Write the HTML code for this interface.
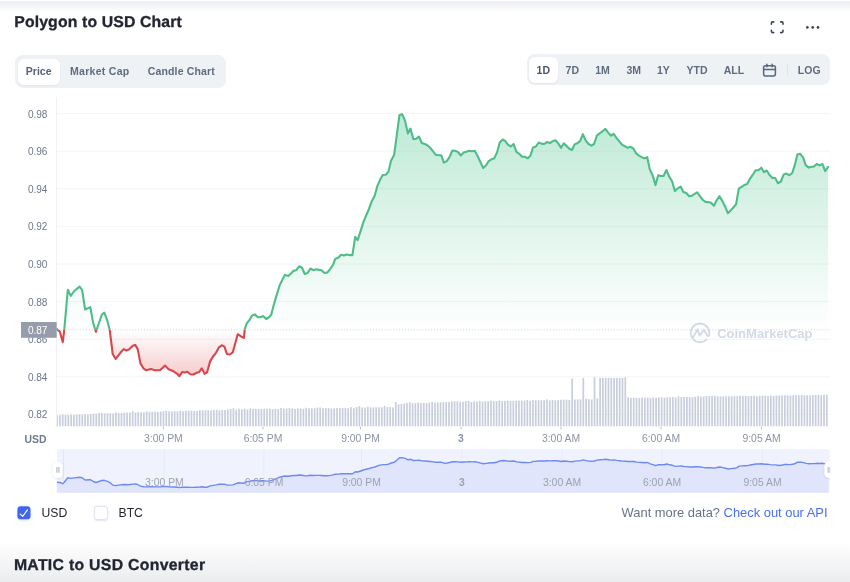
<!DOCTYPE html>
<html><head><meta charset="utf-8"><title>Polygon to USD Chart</title>
<style>
html,body{margin:0;padding:0;}
body{width:850px;height:582px;overflow:hidden;background:#fff;position:relative;font-family:"Liberation Sans",sans-serif;color:#222531;}
#wrap{position:absolute;left:0;top:0;width:850px;height:582px;will-change:transform;}
.topshade{position:absolute;left:0;top:1px;width:850px;height:12px;background:linear-gradient(#eceef2,#fff);}
.botshade{position:absolute;left:0;top:541px;width:850px;height:41px;background:linear-gradient(#fff,#ebecee);}
.h{position:absolute;left:14.5px;font-weight:bold;font-size:15.3px;line-height:20px;white-space:nowrap;color:#222531;}
.ht{font-family:"Liberation Sans",sans-serif;font-weight:bold;font-size:15.8px;fill:#222531;stroke:#222531;stroke-width:0.3px;text-rendering:geometricPrecision;}
.bar{position:absolute;background:#eff2f5;border-radius:8px;}
.sel{position:absolute;background:#fff;border-radius:6px;box-shadow:0 1px 2px rgba(128,138,157,.12)}
.t{position:absolute;font-size:10.5px;font-weight:bold;color:#5f6b80;line-height:14px;white-space:nowrap;transform:translateX(-50%);}
.yl{font-size:10.05px;font-family:"Liberation Sans",sans-serif;}
.xl{font-size:10.4px;font-family:"Liberation Sans",sans-serif;fill:#8a93a5;}
.nl{fill:#9aa2b3;}
.lbl{position:absolute;font-size:12.2px;line-height:16px;white-space:nowrap;}
</style></head><body>
<div id="wrap"><div class="topshade"></div>
<div class="botshade"></div>
<svg width="400" height="40" viewBox="0 0 400 40" style="position:absolute;left:0;top:0"><text x="14.2" y="26.85" class="ht" textLength="167.6" lengthAdjust="spacing">Polygon to USD Chart</text></svg>
<svg width="400" height="40" viewBox="0 542 400 40" style="position:absolute;left:0;top:542px"><text x="13.9" y="570.3" class="ht" textLength="191.2" lengthAdjust="spacing">MATIC to USD Converter</text></svg>

<div class="bar" style="left:14.7px;top:54.6px;width:211.7px;height:33.6px"></div>
<div class="sel" style="left:18.2px;top:58.8px;width:42px;height:26.2px"></div>
<div class="t" style="left:38.7px;top:64.3px;color:#566176">Price</div>
<div class="t" style="left:99.8px;top:64.3px;letter-spacing:0.28px">Market Cap</div>
<div class="t" style="left:181.3px;top:64.3px;letter-spacing:0.15px">Candle Chart</div>

<div class="bar" style="left:526.8px;top:54px;width:303px;height:31.4px"></div>
<div class="sel" style="left:529.4px;top:57px;width:28.2px;height:25.7px"></div>
<div class="t" style="left:543.3px;top:63px;color:#4a556b">1D</div>
<div class="t" style="left:572.3px;top:63px">7D</div>
<div class="t" style="left:602.5px;top:63px">1M</div>
<div class="t" style="left:633.7px;top:63px">3M</div>
<div class="t" style="left:663.4px;top:63px">1Y</div>
<div class="t" style="left:697px;top:63px">YTD</div>
<div class="t" style="left:733.9px;top:63px">ALL</div>
<div class="t" style="left:809.2px;top:63px">LOG</div>
<div style="position:absolute;left:786.9px;top:64.3px;width:1px;height:10.8px;background:#dde1e8"></div>
<svg style="position:absolute;left:762px;top:61.6px" width="15" height="16" viewBox="0 0 15 16"><rect x="1.6" y="3.7" width="11.8" height="10.2" rx="1.8" fill="none" stroke="#58667e" stroke-width="1.5"/><path d="M1.6,7.4h11.8M4.9,2.2v2.6M10.1,2.2v2.6" stroke="#58667e" stroke-width="1.5" fill="none" stroke-linecap="round"/></svg>
<svg style="position:absolute;left:770.1px;top:21.3px" width="14.4" height="12.5" viewBox="0 0 15 14"><path d="M1,3.6V2.4Q1,1 2.4,1H3.6M11.4,1h1.2Q14,1 14,2.4V3.6M14,10.4v1.2Q14,13 12.6,13H11.4M3.6,13H2.4Q1,13 1,11.6V10.4" fill="none" stroke="#3a4256" stroke-width="1.75" stroke-linecap="round"/></svg>
<svg style="position:absolute;left:805px;top:25px" width="16" height="5" viewBox="0 0 16 5"><circle cx="2.4" cy="2.4" r="1.32" fill="#3a4256"/><circle cx="7.7" cy="2.4" r="1.32" fill="#3a4256"/><circle cx="13" cy="2.4" r="1.32" fill="#3a4256"/></svg>

<svg width="850" height="582" viewBox="0 0 850 582" style="position:absolute;left:0;top:0">
<defs>
<linearGradient id="gg" x1="0" y1="113" x2="0" y2="329.8" gradientUnits="userSpaceOnUse">
<stop offset="0" stop-color="#3fbf86" stop-opacity="0.34"/><stop offset="1" stop-color="#3fbf86" stop-opacity="0.0"/></linearGradient>
<linearGradient id="rg" x1="0" y1="329.8" x2="0" y2="378" gradientUnits="userSpaceOnUse">
<stop offset="0" stop-color="#e0464b" stop-opacity="0.0"/><stop offset="1" stop-color="#e0464b" stop-opacity="0.29"/></linearGradient>
<clipPath id="cu"><rect x="0" y="0" width="850" height="329.8"/></clipPath>
<clipPath id="cd"><rect x="0" y="329.8" width="850" height="200"/></clipPath>
</defs>
<line x1="56.5" x2="56.5" y1="97" y2="427" stroke="#eff2f5" stroke-width="1"/>
<line x1="57" x2="830" y1="113.6" y2="113.6" stroke="#f3f4f7" stroke-width="1"/><line x1="57" x2="830" y1="151.2" y2="151.2" stroke="#f3f4f7" stroke-width="1"/><line x1="57" x2="830" y1="188.8" y2="188.8" stroke="#f3f4f7" stroke-width="1"/><line x1="57" x2="830" y1="226.4" y2="226.4" stroke="#f3f4f7" stroke-width="1"/><line x1="57" x2="830" y1="264.0" y2="264.0" stroke="#f3f4f7" stroke-width="1"/><line x1="57" x2="830" y1="301.6" y2="301.6" stroke="#f3f4f7" stroke-width="1"/><line x1="57" x2="830" y1="339.2" y2="339.2" stroke="#f3f4f7" stroke-width="1"/><line x1="57" x2="830" y1="376.8" y2="376.8" stroke="#f3f4f7" stroke-width="1"/><line x1="57" x2="830" y1="414.4" y2="414.4" stroke="#f3f4f7" stroke-width="1"/>
<g fill="#6d788d"><text x="27.9" y="117.5" class="yl">0.98</text><text x="27.9" y="155.1" class="yl">0.96</text><text x="27.9" y="192.7" class="yl">0.94</text><text x="27.9" y="230.3" class="yl">0.92</text><text x="27.9" y="267.9" class="yl">0.90</text><text x="27.9" y="305.5" class="yl">0.88</text><text x="27.9" y="343.1" class="yl">0.86</text><text x="27.9" y="380.7" class="yl">0.84</text><text x="27.9" y="418.3" class="yl">0.82</text></g>
<g clip-path="url(#cu)"><path d="M56.9,329.0 L59.9,331.8 L62.8,342.1 L64.3,329.3 L67.8,289.8 L70.8,295.9 L74.2,291.0 L79.6,286.6 L82.1,289.8 L85.1,309.5 L90.3,307.1 L93.2,323.1 L95.9,331.8 L101.9,314.5 L104.3,312.7 L107.3,320.6 L109.8,330.5 L112.7,354.0 L115.7,358.9 L120.4,352.8 L123.6,349.1 L126.6,350.5 L129.5,349.1 L132.8,345.8 L135.2,344.9 L137.7,349.1 L140.4,363.4 L143.4,368.3 L146.3,370.3 L150.8,369.1 L155.0,370.3 L159.9,370.3 L165.1,365.6 L168.6,369.3 L173.5,371.3 L177.2,373.8 L179.4,376.2 L182.2,372.0 L184.6,372.5 L187.4,371.8 L190.3,374.2 L193.3,374.5 L196.2,373.0 L199.2,372.0 L201.7,368.3 L204.6,373.8 L207.1,372.3 L210.1,361.4 L213.0,356.5 L216.0,352.8 L219.0,347.3 L221.7,345.3 L224.4,346.6 L226.9,354.0 L229.8,354.5 L232.8,352.3 L237.7,334.2 L240.7,336.2 L243.9,337.9 L244.7,329.6 L246.6,323.5 L249.4,320.1 L252.3,315.4 L254.7,314.4 L257.9,317.3 L260.8,317.1 L263.2,316.0 L266.1,319.0 L268.7,317.5 L271.2,314.8 L274.0,304.1 L276.8,294.6 L279.7,285.2 L282.5,279.5 L285.0,274.8 L288.2,276.1 L291.0,273.5 L293.8,270.6 L296.3,270.2 L299.1,266.3 L302.0,267.8 L304.8,274.0 L307.6,272.9 L310.5,268.5 L313.3,270.2 L316.1,269.3 L319.0,269.9 L321.6,270.2 L324.4,272.9 L327.3,272.5 L330.1,269.1 L332.9,265.0 L335.4,258.7 L338.2,257.8 L341.1,254.8 L343.9,255.5 L346.7,254.4 L349.6,255.1 L352.4,255.1 L355.2,236.9 L357.6,240.2 L360.5,231.3 L363.3,222.4 L366.0,215.7 L368.9,209.2 L371.8,201.2 L374.6,196.0 L377.5,185.6 L380.2,179.6 L382.8,175.0 L385.7,174.8 L388.4,171.9 L391.0,160.8 L394.1,155.0 L396.8,135.1 L399.4,115.3 L402.1,114.1 L405.0,120.6 L407.9,133.4 L410.5,128.6 L413.4,139.2 L416.3,138.7 L418.9,136.5 L421.8,143.0 L424.7,144.0 L427.3,145.2 L430.2,147.8 L433.1,151.4 L435.8,154.8 L438.7,155.3 L441.3,155.3 L443.9,162.7 L446.8,161.1 L449.5,157.2 L452.4,150.5 L455.0,150.7 L457.9,151.9 L460.8,155.5 L463.7,152.4 L466.3,151.7 L469.2,150.7 L471.9,151.2 L474.7,150.7 L477.6,156.0 L480.5,162.3 L483.2,168.0 L486.1,165.2 L488.7,161.1 L491.9,159.1 L494.2,158.4 L497.0,152.5 L499.8,142.5 L502.7,139.5 L505.1,140.8 L507.9,144.6 L510.8,146.5 L513.6,144.0 L516.4,151.9 L519.3,153.8 L522.1,156.8 L524.9,156.8 L527.8,158.2 L530.4,155.7 L533.1,147.4 L535.9,146.5 L538.7,142.5 L541.4,143.6 L544.2,144.0 L547.0,142.1 L549.9,143.1 L552.7,141.2 L555.5,140.2 L558.4,143.6 L561.0,147.8 L563.7,143.4 L566.5,145.9 L569.3,148.7 L572.0,150.0 L574.6,144.4 L577.3,143.2 L580.1,141.2 L582.9,134.2 L585.8,140.6 L588.6,144.0 L591.4,145.7 L594.1,144.0 L596.9,135.5 L599.7,133.4 L602.6,131.2 L605.4,128.9 L608.2,132.7 L611.1,135.7 L613.7,133.8 L616.6,138.3 L619.4,141.4 L622.2,144.9 L625.1,146.3 L627.7,147.8 L630.5,146.8 L633.4,148.5 L636.2,153.4 L639.0,155.7 L641.7,157.2 L644.7,158.4 L647.2,157.1 L649.8,169.4 L652.7,175.6 L655.5,185.1 L658.1,175.4 L661.0,176.0 L663.6,176.0 L666.4,170.0 L669.3,176.9 L672.1,181.3 L674.9,191.1 L677.8,188.3 L680.6,186.6 L683.4,191.9 L686.3,193.0 L689.1,196.2 L691.8,195.8 L694.6,193.9 L697.2,192.4 L700.1,196.4 L702.9,200.0 L705.5,201.9 L708.4,202.1 L711.0,202.8 L713.9,205.8 L716.5,200.6 L719.5,196.2 L722.4,201.1 L725.0,206.2 L727.8,213.2 L730.7,210.4 L733.5,207.2 L736.1,204.3 L738.8,188.7 L741.6,186.8 L744.5,184.9 L747.1,183.9 L749.9,178.8 L752.8,174.7 L755.6,170.3 L758.4,170.3 L761.3,167.7 L763.9,172.2 L766.7,170.5 L769.6,175.1 L772.4,178.0 L775.2,178.0 L778.0,183.2 L780.9,181.5 L783.7,174.4 L786.5,173.6 L789.4,175.3 L792.2,173.0 L794.7,165.4 L797.4,154.6 L800.2,153.8 L803.1,157.4 L805.7,165.1 L808.7,167.6 L811.5,166.8 L813.9,166.6 L816.7,164.0 L819.6,165.4 L822.4,164.0 L825.2,171.1 L828.1,166.8 L828.1,329.8 L56.9,329.8 Z" fill="url(#gg)"/></g>
<g clip-path="url(#cd)"><path d="M56.9,329.0 L59.9,331.8 L62.8,342.1 L64.3,329.3 L67.8,289.8 L70.8,295.9 L74.2,291.0 L79.6,286.6 L82.1,289.8 L85.1,309.5 L90.3,307.1 L93.2,323.1 L95.9,331.8 L101.9,314.5 L104.3,312.7 L107.3,320.6 L109.8,330.5 L112.7,354.0 L115.7,358.9 L120.4,352.8 L123.6,349.1 L126.6,350.5 L129.5,349.1 L132.8,345.8 L135.2,344.9 L137.7,349.1 L140.4,363.4 L143.4,368.3 L146.3,370.3 L150.8,369.1 L155.0,370.3 L159.9,370.3 L165.1,365.6 L168.6,369.3 L173.5,371.3 L177.2,373.8 L179.4,376.2 L182.2,372.0 L184.6,372.5 L187.4,371.8 L190.3,374.2 L193.3,374.5 L196.2,373.0 L199.2,372.0 L201.7,368.3 L204.6,373.8 L207.1,372.3 L210.1,361.4 L213.0,356.5 L216.0,352.8 L219.0,347.3 L221.7,345.3 L224.4,346.6 L226.9,354.0 L229.8,354.5 L232.8,352.3 L237.7,334.2 L240.7,336.2 L243.9,337.9 L244.7,329.6 L246.6,323.5 L249.4,320.1 L252.3,315.4 L254.7,314.4 L257.9,317.3 L260.8,317.1 L263.2,316.0 L266.1,319.0 L268.7,317.5 L271.2,314.8 L274.0,304.1 L276.8,294.6 L279.7,285.2 L282.5,279.5 L285.0,274.8 L288.2,276.1 L291.0,273.5 L293.8,270.6 L296.3,270.2 L299.1,266.3 L302.0,267.8 L304.8,274.0 L307.6,272.9 L310.5,268.5 L313.3,270.2 L316.1,269.3 L319.0,269.9 L321.6,270.2 L324.4,272.9 L327.3,272.5 L330.1,269.1 L332.9,265.0 L335.4,258.7 L338.2,257.8 L341.1,254.8 L343.9,255.5 L346.7,254.4 L349.6,255.1 L352.4,255.1 L355.2,236.9 L357.6,240.2 L360.5,231.3 L363.3,222.4 L366.0,215.7 L368.9,209.2 L371.8,201.2 L374.6,196.0 L377.5,185.6 L380.2,179.6 L382.8,175.0 L385.7,174.8 L388.4,171.9 L391.0,160.8 L394.1,155.0 L396.8,135.1 L399.4,115.3 L402.1,114.1 L405.0,120.6 L407.9,133.4 L410.5,128.6 L413.4,139.2 L416.3,138.7 L418.9,136.5 L421.8,143.0 L424.7,144.0 L427.3,145.2 L430.2,147.8 L433.1,151.4 L435.8,154.8 L438.7,155.3 L441.3,155.3 L443.9,162.7 L446.8,161.1 L449.5,157.2 L452.4,150.5 L455.0,150.7 L457.9,151.9 L460.8,155.5 L463.7,152.4 L466.3,151.7 L469.2,150.7 L471.9,151.2 L474.7,150.7 L477.6,156.0 L480.5,162.3 L483.2,168.0 L486.1,165.2 L488.7,161.1 L491.9,159.1 L494.2,158.4 L497.0,152.5 L499.8,142.5 L502.7,139.5 L505.1,140.8 L507.9,144.6 L510.8,146.5 L513.6,144.0 L516.4,151.9 L519.3,153.8 L522.1,156.8 L524.9,156.8 L527.8,158.2 L530.4,155.7 L533.1,147.4 L535.9,146.5 L538.7,142.5 L541.4,143.6 L544.2,144.0 L547.0,142.1 L549.9,143.1 L552.7,141.2 L555.5,140.2 L558.4,143.6 L561.0,147.8 L563.7,143.4 L566.5,145.9 L569.3,148.7 L572.0,150.0 L574.6,144.4 L577.3,143.2 L580.1,141.2 L582.9,134.2 L585.8,140.6 L588.6,144.0 L591.4,145.7 L594.1,144.0 L596.9,135.5 L599.7,133.4 L602.6,131.2 L605.4,128.9 L608.2,132.7 L611.1,135.7 L613.7,133.8 L616.6,138.3 L619.4,141.4 L622.2,144.9 L625.1,146.3 L627.7,147.8 L630.5,146.8 L633.4,148.5 L636.2,153.4 L639.0,155.7 L641.7,157.2 L644.7,158.4 L647.2,157.1 L649.8,169.4 L652.7,175.6 L655.5,185.1 L658.1,175.4 L661.0,176.0 L663.6,176.0 L666.4,170.0 L669.3,176.9 L672.1,181.3 L674.9,191.1 L677.8,188.3 L680.6,186.6 L683.4,191.9 L686.3,193.0 L689.1,196.2 L691.8,195.8 L694.6,193.9 L697.2,192.4 L700.1,196.4 L702.9,200.0 L705.5,201.9 L708.4,202.1 L711.0,202.8 L713.9,205.8 L716.5,200.6 L719.5,196.2 L722.4,201.1 L725.0,206.2 L727.8,213.2 L730.7,210.4 L733.5,207.2 L736.1,204.3 L738.8,188.7 L741.6,186.8 L744.5,184.9 L747.1,183.9 L749.9,178.8 L752.8,174.7 L755.6,170.3 L758.4,170.3 L761.3,167.7 L763.9,172.2 L766.7,170.5 L769.6,175.1 L772.4,178.0 L775.2,178.0 L778.0,183.2 L780.9,181.5 L783.7,174.4 L786.5,173.6 L789.4,175.3 L792.2,173.0 L794.7,165.4 L797.4,154.6 L800.2,153.8 L803.1,157.4 L805.7,165.1 L808.7,167.6 L811.5,166.8 L813.9,166.6 L816.7,164.0 L819.6,165.4 L822.4,164.0 L825.2,171.1 L828.1,166.8 L828.1,329.8 L56.9,329.8 Z" fill="url(#rg)"/></g>
<line x1="57" x2="830" y1="329.8" y2="329.8" stroke="#cdd1da" stroke-width="1" stroke-dasharray="1 1.9"/>
<g fill="#c9cedd"><rect x="57.00" y="415.3" width="0.95" height="11.0"/><rect x="59.05" y="415.2" width="1.70" height="11.1"/><rect x="61.85" y="414.5" width="1.70" height="11.8"/><rect x="64.65" y="415.0" width="1.70" height="11.3"/><rect x="67.45" y="414.9" width="1.70" height="11.4"/><rect x="70.25" y="414.7" width="1.70" height="11.6"/><rect x="73.04" y="415.0" width="1.70" height="11.3"/><rect x="75.84" y="414.5" width="1.70" height="11.8"/><rect x="78.64" y="414.4" width="1.70" height="11.9"/><rect x="81.44" y="414.7" width="1.70" height="11.6"/><rect x="84.24" y="414.2" width="1.70" height="12.1"/><rect x="87.04" y="414.5" width="1.70" height="11.8"/><rect x="89.84" y="414.0" width="1.70" height="12.3"/><rect x="92.64" y="413.8" width="1.70" height="12.5"/><rect x="95.44" y="413.7" width="1.70" height="12.6"/><rect x="98.24" y="413.0" width="1.70" height="13.3"/><rect x="101.03" y="412.9" width="1.70" height="13.4"/><rect x="103.83" y="413.4" width="1.70" height="12.9"/><rect x="106.63" y="413.3" width="1.70" height="13.0"/><rect x="109.43" y="413.2" width="1.70" height="13.1"/><rect x="112.23" y="413.5" width="1.70" height="12.8"/><rect x="115.03" y="412.4" width="1.70" height="13.9"/><rect x="117.83" y="412.8" width="1.70" height="13.5"/><rect x="120.63" y="413.1" width="1.70" height="13.2"/><rect x="123.43" y="412.6" width="1.70" height="13.7"/><rect x="126.22" y="412.5" width="1.70" height="13.8"/><rect x="129.02" y="412.4" width="1.70" height="13.9"/><rect x="131.82" y="411.1" width="1.70" height="15.2"/><rect x="134.62" y="412.6" width="1.70" height="13.7"/><rect x="137.42" y="412.1" width="1.70" height="14.2"/><rect x="140.22" y="412.4" width="1.70" height="13.9"/><rect x="143.02" y="412.4" width="1.70" height="13.9"/><rect x="145.82" y="411.3" width="1.70" height="15.0"/><rect x="148.62" y="411.8" width="1.70" height="14.5"/><rect x="151.42" y="411.7" width="1.70" height="14.6"/><rect x="154.22" y="411.6" width="1.70" height="14.7"/><rect x="157.01" y="412.0" width="1.70" height="14.3"/><rect x="159.81" y="411.5" width="1.70" height="14.8"/><rect x="162.61" y="411.4" width="1.70" height="14.9"/><rect x="165.41" y="410.7" width="1.70" height="15.6"/><rect x="168.21" y="411.3" width="1.70" height="15.0"/><rect x="171.01" y="411.6" width="1.70" height="14.7"/><rect x="173.81" y="411.1" width="1.70" height="15.2"/><rect x="176.61" y="411.4" width="1.70" height="14.9"/><rect x="179.41" y="410.9" width="1.70" height="15.4"/><rect x="182.21" y="411.3" width="1.70" height="15.0"/><rect x="185.00" y="410.8" width="1.70" height="15.5"/><rect x="187.80" y="410.7" width="1.70" height="15.6"/><rect x="190.60" y="410.6" width="1.70" height="15.7"/><rect x="193.40" y="411.0" width="1.70" height="15.3"/><rect x="196.20" y="410.9" width="1.70" height="15.4"/><rect x="199.00" y="410.4" width="1.70" height="15.9"/><rect x="201.80" y="410.3" width="1.70" height="16.0"/><rect x="204.60" y="410.2" width="1.70" height="16.1"/><rect x="207.40" y="410.2" width="1.70" height="16.1"/><rect x="210.19" y="410.5" width="1.70" height="15.8"/><rect x="212.99" y="410.0" width="1.70" height="16.3"/><rect x="215.79" y="409.9" width="1.70" height="16.4"/><rect x="218.59" y="410.3" width="1.70" height="16.0"/><rect x="221.39" y="409.8" width="1.70" height="16.5"/><rect x="224.19" y="410.1" width="1.70" height="16.2"/><rect x="226.99" y="409.6" width="1.70" height="16.7"/><rect x="229.79" y="408.9" width="1.70" height="17.4"/><rect x="232.59" y="408.3" width="1.70" height="18.0"/><rect x="235.39" y="409.8" width="1.70" height="16.5"/><rect x="238.19" y="408.7" width="1.70" height="17.6"/><rect x="240.98" y="409.2" width="1.70" height="17.1"/><rect x="243.78" y="408.5" width="1.70" height="17.8"/><rect x="246.58" y="409.5" width="1.70" height="16.8"/><rect x="249.38" y="408.4" width="1.70" height="17.9"/><rect x="252.18" y="409.0" width="1.70" height="17.3"/><rect x="254.98" y="408.9" width="1.70" height="17.4"/><rect x="257.78" y="408.9" width="1.70" height="17.4"/><rect x="260.58" y="408.9" width="1.70" height="17.4"/><rect x="263.38" y="408.8" width="1.70" height="17.5"/><rect x="266.17" y="408.8" width="1.70" height="17.5"/><rect x="268.97" y="408.8" width="1.70" height="17.5"/><rect x="271.77" y="409.1" width="1.70" height="17.2"/><rect x="274.57" y="408.7" width="1.70" height="17.6"/><rect x="277.37" y="409.1" width="1.70" height="17.2"/><rect x="280.17" y="408.0" width="1.70" height="18.3"/><rect x="282.97" y="408.6" width="1.70" height="17.7"/><rect x="285.77" y="408.6" width="1.70" height="17.7"/><rect x="288.57" y="407.9" width="1.70" height="18.4"/><rect x="291.37" y="408.5" width="1.70" height="17.8"/><rect x="294.16" y="408.9" width="1.70" height="17.4"/><rect x="296.96" y="408.4" width="1.70" height="17.9"/><rect x="299.76" y="408.4" width="1.70" height="17.9"/><rect x="302.56" y="408.8" width="1.70" height="17.5"/><rect x="305.36" y="407.7" width="1.70" height="18.6"/><rect x="308.16" y="408.3" width="1.70" height="18.0"/><rect x="310.96" y="408.3" width="1.70" height="18.0"/><rect x="313.76" y="408.2" width="1.70" height="18.1"/><rect x="316.56" y="407.6" width="1.70" height="18.7"/><rect x="319.36" y="407.6" width="1.70" height="18.7"/><rect x="322.15" y="408.1" width="1.70" height="18.2"/><rect x="324.95" y="408.1" width="1.70" height="18.2"/><rect x="327.75" y="408.1" width="1.70" height="18.2"/><rect x="330.55" y="408.4" width="1.70" height="17.9"/><rect x="333.35" y="408.4" width="1.70" height="17.9"/><rect x="336.15" y="408.0" width="1.70" height="18.3"/><rect x="338.95" y="407.9" width="1.70" height="18.4"/><rect x="341.75" y="407.9" width="1.70" height="18.4"/><rect x="344.55" y="407.9" width="1.70" height="18.4"/><rect x="347.35" y="408.2" width="1.70" height="18.1"/><rect x="350.14" y="407.2" width="1.70" height="19.1"/><rect x="352.94" y="408.1" width="1.70" height="18.2"/><rect x="355.74" y="407.0" width="1.70" height="19.3"/><rect x="358.54" y="406.2" width="1.70" height="20.1"/><rect x="361.34" y="407.5" width="1.70" height="18.8"/><rect x="364.14" y="407.5" width="1.70" height="18.8"/><rect x="366.94" y="406.8" width="1.70" height="19.5"/><rect x="369.74" y="407.4" width="1.70" height="18.9"/><rect x="372.54" y="407.4" width="1.70" height="18.9"/><rect x="375.34" y="407.3" width="1.70" height="19.0"/><rect x="378.13" y="407.3" width="1.70" height="19.0"/><rect x="380.93" y="407.2" width="1.70" height="19.1"/><rect x="383.73" y="406.0" width="1.70" height="20.3"/><rect x="386.53" y="407.1" width="1.70" height="19.2"/><rect x="389.33" y="407.1" width="1.70" height="19.2"/><rect x="392.13" y="407.4" width="1.70" height="18.9"/><rect x="394.93" y="402.0" width="1.70" height="24.3"/><rect x="397.73" y="404.3" width="1.70" height="22.0"/><rect x="400.53" y="403.8" width="1.70" height="22.5"/><rect x="403.33" y="403.6" width="1.70" height="22.7"/><rect x="406.12" y="402.9" width="1.70" height="23.4"/><rect x="408.92" y="402.2" width="1.70" height="24.1"/><rect x="411.72" y="403.3" width="1.70" height="23.0"/><rect x="414.52" y="403.2" width="1.70" height="23.1"/><rect x="417.32" y="402.5" width="1.70" height="23.8"/><rect x="420.12" y="403.0" width="1.70" height="23.3"/><rect x="422.92" y="402.9" width="1.70" height="23.4"/><rect x="425.72" y="403.2" width="1.70" height="23.1"/><rect x="428.52" y="402.7" width="1.70" height="23.6"/><rect x="431.32" y="402.0" width="1.70" height="24.3"/><rect x="434.12" y="402.5" width="1.70" height="23.8"/><rect x="436.91" y="402.4" width="1.70" height="23.9"/><rect x="439.71" y="402.3" width="1.70" height="24.0"/><rect x="442.51" y="402.2" width="1.70" height="24.1"/><rect x="445.31" y="402.1" width="1.70" height="24.2"/><rect x="448.11" y="402.0" width="1.70" height="24.3"/><rect x="450.91" y="401.4" width="1.70" height="24.9"/><rect x="453.71" y="401.3" width="1.70" height="25.0"/><rect x="456.51" y="401.3" width="1.70" height="25.0"/><rect x="459.31" y="401.8" width="1.70" height="24.5"/><rect x="462.11" y="401.7" width="1.70" height="24.6"/><rect x="464.90" y="401.1" width="1.70" height="25.2"/><rect x="467.70" y="401.0" width="1.70" height="25.3"/><rect x="470.50" y="402.0" width="1.70" height="24.3"/><rect x="473.30" y="401.5" width="1.70" height="24.8"/><rect x="476.10" y="401.5" width="1.70" height="24.8"/><rect x="478.90" y="400.8" width="1.70" height="25.5"/><rect x="481.70" y="401.7" width="1.70" height="24.6"/><rect x="484.50" y="401.3" width="1.70" height="25.0"/><rect x="487.30" y="401.2" width="1.70" height="25.1"/><rect x="490.09" y="400.6" width="1.70" height="25.7"/><rect x="492.89" y="401.1" width="1.70" height="25.2"/><rect x="495.69" y="401.1" width="1.70" height="25.2"/><rect x="498.49" y="400.4" width="1.70" height="25.9"/><rect x="501.29" y="401.0" width="1.70" height="25.3"/><rect x="504.09" y="400.9" width="1.70" height="25.4"/><rect x="506.89" y="400.8" width="1.70" height="25.5"/><rect x="509.69" y="400.8" width="1.70" height="25.5"/><rect x="512.49" y="400.7" width="1.70" height="25.6"/><rect x="515.29" y="400.7" width="1.70" height="25.6"/><rect x="518.08" y="400.6" width="1.70" height="25.7"/><rect x="520.88" y="400.6" width="1.70" height="25.7"/><rect x="523.68" y="400.5" width="1.70" height="25.8"/><rect x="526.48" y="399.9" width="1.70" height="26.4"/><rect x="529.28" y="400.8" width="1.70" height="25.5"/><rect x="532.08" y="400.3" width="1.70" height="26.0"/><rect x="534.88" y="400.3" width="1.70" height="26.0"/><rect x="537.68" y="400.2" width="1.70" height="26.1"/><rect x="540.48" y="400.2" width="1.70" height="26.1"/><rect x="543.28" y="400.1" width="1.70" height="26.2"/><rect x="546.07" y="399.5" width="1.70" height="26.8"/><rect x="548.87" y="400.4" width="1.70" height="25.9"/><rect x="551.67" y="399.9" width="1.70" height="26.4"/><rect x="554.47" y="400.3" width="1.70" height="26.0"/><rect x="557.27" y="400.2" width="1.70" height="26.1"/><rect x="560.07" y="399.8" width="1.70" height="26.5"/><rect x="562.87" y="399.7" width="1.70" height="26.6"/><rect x="565.67" y="399.7" width="1.70" height="26.6"/><rect x="568.47" y="400.0" width="1.70" height="26.3"/><rect x="571.27" y="378.6" width="1.70" height="47.7"/><rect x="574.06" y="399.5" width="1.70" height="26.8"/><rect x="576.86" y="399.4" width="1.70" height="26.9"/><rect x="579.66" y="399.4" width="1.70" height="26.9"/><rect x="582.46" y="377.8" width="1.70" height="48.5"/><rect x="585.26" y="398.7" width="1.70" height="27.6"/><rect x="588.06" y="399.2" width="1.70" height="27.1"/><rect x="590.86" y="399.5" width="1.70" height="26.8"/><rect x="593.66" y="377.2" width="1.70" height="49.1"/><rect x="596.46" y="398.3" width="1.70" height="28.0"/><rect x="599.26" y="377.9" width="1.70" height="48.4"/><rect x="602.05" y="377.9" width="1.70" height="48.4"/><rect x="604.85" y="377.9" width="1.70" height="48.4"/><rect x="607.65" y="377.9" width="1.70" height="48.4"/><rect x="610.45" y="377.9" width="1.70" height="48.4"/><rect x="613.25" y="377.9" width="1.70" height="48.4"/><rect x="616.05" y="377.9" width="1.70" height="48.4"/><rect x="618.85" y="377.9" width="1.70" height="48.4"/><rect x="621.65" y="377.9" width="1.70" height="48.4"/><rect x="624.45" y="377.2" width="1.70" height="49.1"/><rect x="627.25" y="397.3" width="1.70" height="29.0"/><rect x="630.04" y="397.8" width="1.70" height="28.5"/><rect x="632.84" y="397.7" width="1.70" height="28.6"/><rect x="635.64" y="397.7" width="1.70" height="28.6"/><rect x="638.44" y="398.1" width="1.70" height="28.2"/><rect x="641.24" y="397.6" width="1.70" height="28.7"/><rect x="644.04" y="397.6" width="1.70" height="28.7"/><rect x="646.84" y="397.5" width="1.70" height="28.8"/><rect x="649.64" y="397.9" width="1.70" height="28.4"/><rect x="652.44" y="397.4" width="1.70" height="28.9"/><rect x="655.24" y="397.8" width="1.70" height="28.5"/><rect x="658.03" y="397.3" width="1.70" height="29.0"/><rect x="660.83" y="397.3" width="1.70" height="29.0"/><rect x="663.63" y="397.7" width="1.70" height="28.6"/><rect x="666.43" y="397.2" width="1.70" height="29.1"/><rect x="669.23" y="397.2" width="1.70" height="29.1"/><rect x="672.03" y="397.1" width="1.70" height="29.2"/><rect x="674.83" y="397.5" width="1.70" height="28.8"/><rect x="677.63" y="396.4" width="1.70" height="29.9"/><rect x="680.43" y="397.0" width="1.70" height="29.3"/><rect x="683.23" y="397.0" width="1.70" height="29.3"/><rect x="686.02" y="396.9" width="1.70" height="29.4"/><rect x="688.82" y="396.9" width="1.70" height="29.4"/><rect x="691.62" y="397.2" width="1.70" height="29.1"/><rect x="694.42" y="396.8" width="1.70" height="29.5"/><rect x="697.22" y="396.1" width="1.70" height="30.2"/><rect x="700.02" y="396.7" width="1.70" height="29.6"/><rect x="702.82" y="396.6" width="1.70" height="29.7"/><rect x="705.62" y="396.0" width="1.70" height="30.3"/><rect x="708.42" y="396.0" width="1.70" height="30.3"/><rect x="711.22" y="395.9" width="1.70" height="30.4"/><rect x="714.01" y="395.9" width="1.70" height="30.4"/><rect x="716.81" y="396.4" width="1.70" height="29.9"/><rect x="719.61" y="396.4" width="1.70" height="29.9"/><rect x="722.41" y="396.3" width="1.70" height="30.0"/><rect x="725.21" y="396.3" width="1.70" height="30.0"/><rect x="728.01" y="396.3" width="1.70" height="30.0"/><rect x="730.81" y="396.2" width="1.70" height="30.1"/><rect x="733.61" y="396.2" width="1.70" height="30.1"/><rect x="736.41" y="396.1" width="1.70" height="30.2"/><rect x="739.21" y="395.5" width="1.70" height="30.8"/><rect x="742.00" y="396.0" width="1.70" height="30.3"/><rect x="744.80" y="396.0" width="1.70" height="30.3"/><rect x="747.60" y="396.3" width="1.70" height="30.0"/><rect x="750.40" y="395.9" width="1.70" height="30.4"/><rect x="753.20" y="395.9" width="1.70" height="30.4"/><rect x="756.00" y="396.2" width="1.70" height="30.1"/><rect x="758.80" y="395.8" width="1.70" height="30.5"/><rect x="761.60" y="395.7" width="1.70" height="30.6"/><rect x="764.40" y="395.7" width="1.70" height="30.6"/><rect x="767.20" y="396.0" width="1.70" height="30.3"/><rect x="770.00" y="395.6" width="1.70" height="30.7"/><rect x="772.79" y="396.0" width="1.70" height="30.3"/><rect x="775.59" y="395.5" width="1.70" height="30.8"/><rect x="778.39" y="395.5" width="1.70" height="30.8"/><rect x="781.19" y="395.4" width="1.70" height="30.9"/><rect x="783.99" y="395.4" width="1.70" height="30.9"/><rect x="786.79" y="395.3" width="1.70" height="31.0"/><rect x="789.59" y="395.7" width="1.70" height="30.6"/><rect x="792.39" y="395.2" width="1.70" height="31.1"/><rect x="795.19" y="395.2" width="1.70" height="31.1"/><rect x="797.99" y="395.2" width="1.70" height="31.1"/><rect x="800.78" y="395.1" width="1.70" height="31.2"/><rect x="803.58" y="395.5" width="1.70" height="30.8"/><rect x="806.38" y="395.4" width="1.70" height="30.9"/><rect x="809.18" y="395.4" width="1.70" height="30.9"/><rect x="811.98" y="394.9" width="1.70" height="31.4"/><rect x="814.78" y="394.9" width="1.70" height="31.4"/><rect x="817.58" y="394.8" width="1.70" height="31.5"/><rect x="820.38" y="395.2" width="1.70" height="31.1"/><rect x="823.18" y="394.8" width="1.70" height="31.5"/><rect x="825.98" y="394.7" width="1.70" height="31.6"/></g>
<g clip-path="url(#cu)"><path d="M56.9,329.0 L59.9,331.8 L62.8,342.1 L64.3,329.3 L67.8,289.8 L70.8,295.9 L74.2,291.0 L79.6,286.6 L82.1,289.8 L85.1,309.5 L90.3,307.1 L93.2,323.1 L95.9,331.8 L101.9,314.5 L104.3,312.7 L107.3,320.6 L109.8,330.5 L112.7,354.0 L115.7,358.9 L120.4,352.8 L123.6,349.1 L126.6,350.5 L129.5,349.1 L132.8,345.8 L135.2,344.9 L137.7,349.1 L140.4,363.4 L143.4,368.3 L146.3,370.3 L150.8,369.1 L155.0,370.3 L159.9,370.3 L165.1,365.6 L168.6,369.3 L173.5,371.3 L177.2,373.8 L179.4,376.2 L182.2,372.0 L184.6,372.5 L187.4,371.8 L190.3,374.2 L193.3,374.5 L196.2,373.0 L199.2,372.0 L201.7,368.3 L204.6,373.8 L207.1,372.3 L210.1,361.4 L213.0,356.5 L216.0,352.8 L219.0,347.3 L221.7,345.3 L224.4,346.6 L226.9,354.0 L229.8,354.5 L232.8,352.3 L237.7,334.2 L240.7,336.2 L243.9,337.9 L244.7,329.6 L246.6,323.5 L249.4,320.1 L252.3,315.4 L254.7,314.4 L257.9,317.3 L260.8,317.1 L263.2,316.0 L266.1,319.0 L268.7,317.5 L271.2,314.8 L274.0,304.1 L276.8,294.6 L279.7,285.2 L282.5,279.5 L285.0,274.8 L288.2,276.1 L291.0,273.5 L293.8,270.6 L296.3,270.2 L299.1,266.3 L302.0,267.8 L304.8,274.0 L307.6,272.9 L310.5,268.5 L313.3,270.2 L316.1,269.3 L319.0,269.9 L321.6,270.2 L324.4,272.9 L327.3,272.5 L330.1,269.1 L332.9,265.0 L335.4,258.7 L338.2,257.8 L341.1,254.8 L343.9,255.5 L346.7,254.4 L349.6,255.1 L352.4,255.1 L355.2,236.9 L357.6,240.2 L360.5,231.3 L363.3,222.4 L366.0,215.7 L368.9,209.2 L371.8,201.2 L374.6,196.0 L377.5,185.6 L380.2,179.6 L382.8,175.0 L385.7,174.8 L388.4,171.9 L391.0,160.8 L394.1,155.0 L396.8,135.1 L399.4,115.3 L402.1,114.1 L405.0,120.6 L407.9,133.4 L410.5,128.6 L413.4,139.2 L416.3,138.7 L418.9,136.5 L421.8,143.0 L424.7,144.0 L427.3,145.2 L430.2,147.8 L433.1,151.4 L435.8,154.8 L438.7,155.3 L441.3,155.3 L443.9,162.7 L446.8,161.1 L449.5,157.2 L452.4,150.5 L455.0,150.7 L457.9,151.9 L460.8,155.5 L463.7,152.4 L466.3,151.7 L469.2,150.7 L471.9,151.2 L474.7,150.7 L477.6,156.0 L480.5,162.3 L483.2,168.0 L486.1,165.2 L488.7,161.1 L491.9,159.1 L494.2,158.4 L497.0,152.5 L499.8,142.5 L502.7,139.5 L505.1,140.8 L507.9,144.6 L510.8,146.5 L513.6,144.0 L516.4,151.9 L519.3,153.8 L522.1,156.8 L524.9,156.8 L527.8,158.2 L530.4,155.7 L533.1,147.4 L535.9,146.5 L538.7,142.5 L541.4,143.6 L544.2,144.0 L547.0,142.1 L549.9,143.1 L552.7,141.2 L555.5,140.2 L558.4,143.6 L561.0,147.8 L563.7,143.4 L566.5,145.9 L569.3,148.7 L572.0,150.0 L574.6,144.4 L577.3,143.2 L580.1,141.2 L582.9,134.2 L585.8,140.6 L588.6,144.0 L591.4,145.7 L594.1,144.0 L596.9,135.5 L599.7,133.4 L602.6,131.2 L605.4,128.9 L608.2,132.7 L611.1,135.7 L613.7,133.8 L616.6,138.3 L619.4,141.4 L622.2,144.9 L625.1,146.3 L627.7,147.8 L630.5,146.8 L633.4,148.5 L636.2,153.4 L639.0,155.7 L641.7,157.2 L644.7,158.4 L647.2,157.1 L649.8,169.4 L652.7,175.6 L655.5,185.1 L658.1,175.4 L661.0,176.0 L663.6,176.0 L666.4,170.0 L669.3,176.9 L672.1,181.3 L674.9,191.1 L677.8,188.3 L680.6,186.6 L683.4,191.9 L686.3,193.0 L689.1,196.2 L691.8,195.8 L694.6,193.9 L697.2,192.4 L700.1,196.4 L702.9,200.0 L705.5,201.9 L708.4,202.1 L711.0,202.8 L713.9,205.8 L716.5,200.6 L719.5,196.2 L722.4,201.1 L725.0,206.2 L727.8,213.2 L730.7,210.4 L733.5,207.2 L736.1,204.3 L738.8,188.7 L741.6,186.8 L744.5,184.9 L747.1,183.9 L749.9,178.8 L752.8,174.7 L755.6,170.3 L758.4,170.3 L761.3,167.7 L763.9,172.2 L766.7,170.5 L769.6,175.1 L772.4,178.0 L775.2,178.0 L778.0,183.2 L780.9,181.5 L783.7,174.4 L786.5,173.6 L789.4,175.3 L792.2,173.0 L794.7,165.4 L797.4,154.6 L800.2,153.8 L803.1,157.4 L805.7,165.1 L808.7,167.6 L811.5,166.8 L813.9,166.6 L816.7,164.0 L819.6,165.4 L822.4,164.0 L825.2,171.1 L828.1,166.8" fill="none" stroke="#4fbd87" stroke-width="2.1" stroke-linejoin="round" stroke-linecap="round"/></g>
<g clip-path="url(#cd)"><path d="M56.9,329.0 L59.9,331.8 L62.8,342.1 L64.3,329.3 L67.8,289.8 L70.8,295.9 L74.2,291.0 L79.6,286.6 L82.1,289.8 L85.1,309.5 L90.3,307.1 L93.2,323.1 L95.9,331.8 L101.9,314.5 L104.3,312.7 L107.3,320.6 L109.8,330.5 L112.7,354.0 L115.7,358.9 L120.4,352.8 L123.6,349.1 L126.6,350.5 L129.5,349.1 L132.8,345.8 L135.2,344.9 L137.7,349.1 L140.4,363.4 L143.4,368.3 L146.3,370.3 L150.8,369.1 L155.0,370.3 L159.9,370.3 L165.1,365.6 L168.6,369.3 L173.5,371.3 L177.2,373.8 L179.4,376.2 L182.2,372.0 L184.6,372.5 L187.4,371.8 L190.3,374.2 L193.3,374.5 L196.2,373.0 L199.2,372.0 L201.7,368.3 L204.6,373.8 L207.1,372.3 L210.1,361.4 L213.0,356.5 L216.0,352.8 L219.0,347.3 L221.7,345.3 L224.4,346.6 L226.9,354.0 L229.8,354.5 L232.8,352.3 L237.7,334.2 L240.7,336.2 L243.9,337.9 L244.7,329.6 L246.6,323.5 L249.4,320.1 L252.3,315.4 L254.7,314.4 L257.9,317.3 L260.8,317.1 L263.2,316.0 L266.1,319.0 L268.7,317.5 L271.2,314.8 L274.0,304.1 L276.8,294.6 L279.7,285.2 L282.5,279.5 L285.0,274.8 L288.2,276.1 L291.0,273.5 L293.8,270.6 L296.3,270.2 L299.1,266.3 L302.0,267.8 L304.8,274.0 L307.6,272.9 L310.5,268.5 L313.3,270.2 L316.1,269.3 L319.0,269.9 L321.6,270.2 L324.4,272.9 L327.3,272.5 L330.1,269.1 L332.9,265.0 L335.4,258.7 L338.2,257.8 L341.1,254.8 L343.9,255.5 L346.7,254.4 L349.6,255.1 L352.4,255.1 L355.2,236.9 L357.6,240.2 L360.5,231.3 L363.3,222.4 L366.0,215.7 L368.9,209.2 L371.8,201.2 L374.6,196.0 L377.5,185.6 L380.2,179.6 L382.8,175.0 L385.7,174.8 L388.4,171.9 L391.0,160.8 L394.1,155.0 L396.8,135.1 L399.4,115.3 L402.1,114.1 L405.0,120.6 L407.9,133.4 L410.5,128.6 L413.4,139.2 L416.3,138.7 L418.9,136.5 L421.8,143.0 L424.7,144.0 L427.3,145.2 L430.2,147.8 L433.1,151.4 L435.8,154.8 L438.7,155.3 L441.3,155.3 L443.9,162.7 L446.8,161.1 L449.5,157.2 L452.4,150.5 L455.0,150.7 L457.9,151.9 L460.8,155.5 L463.7,152.4 L466.3,151.7 L469.2,150.7 L471.9,151.2 L474.7,150.7 L477.6,156.0 L480.5,162.3 L483.2,168.0 L486.1,165.2 L488.7,161.1 L491.9,159.1 L494.2,158.4 L497.0,152.5 L499.8,142.5 L502.7,139.5 L505.1,140.8 L507.9,144.6 L510.8,146.5 L513.6,144.0 L516.4,151.9 L519.3,153.8 L522.1,156.8 L524.9,156.8 L527.8,158.2 L530.4,155.7 L533.1,147.4 L535.9,146.5 L538.7,142.5 L541.4,143.6 L544.2,144.0 L547.0,142.1 L549.9,143.1 L552.7,141.2 L555.5,140.2 L558.4,143.6 L561.0,147.8 L563.7,143.4 L566.5,145.9 L569.3,148.7 L572.0,150.0 L574.6,144.4 L577.3,143.2 L580.1,141.2 L582.9,134.2 L585.8,140.6 L588.6,144.0 L591.4,145.7 L594.1,144.0 L596.9,135.5 L599.7,133.4 L602.6,131.2 L605.4,128.9 L608.2,132.7 L611.1,135.7 L613.7,133.8 L616.6,138.3 L619.4,141.4 L622.2,144.9 L625.1,146.3 L627.7,147.8 L630.5,146.8 L633.4,148.5 L636.2,153.4 L639.0,155.7 L641.7,157.2 L644.7,158.4 L647.2,157.1 L649.8,169.4 L652.7,175.6 L655.5,185.1 L658.1,175.4 L661.0,176.0 L663.6,176.0 L666.4,170.0 L669.3,176.9 L672.1,181.3 L674.9,191.1 L677.8,188.3 L680.6,186.6 L683.4,191.9 L686.3,193.0 L689.1,196.2 L691.8,195.8 L694.6,193.9 L697.2,192.4 L700.1,196.4 L702.9,200.0 L705.5,201.9 L708.4,202.1 L711.0,202.8 L713.9,205.8 L716.5,200.6 L719.5,196.2 L722.4,201.1 L725.0,206.2 L727.8,213.2 L730.7,210.4 L733.5,207.2 L736.1,204.3 L738.8,188.7 L741.6,186.8 L744.5,184.9 L747.1,183.9 L749.9,178.8 L752.8,174.7 L755.6,170.3 L758.4,170.3 L761.3,167.7 L763.9,172.2 L766.7,170.5 L769.6,175.1 L772.4,178.0 L775.2,178.0 L778.0,183.2 L780.9,181.5 L783.7,174.4 L786.5,173.6 L789.4,175.3 L792.2,173.0 L794.7,165.4 L797.4,154.6 L800.2,153.8 L803.1,157.4 L805.7,165.1 L808.7,167.6 L811.5,166.8 L813.9,166.6 L816.7,164.0 L819.6,165.4 L822.4,164.0 L825.2,171.1 L828.1,166.8" fill="none" stroke="#d9474d" stroke-width="2.1" stroke-linejoin="round" stroke-linecap="round"/></g>
<!-- watermark -->
<g opacity="0.9">
<path d="M706.5,339.6 A9.3,9.3 0 1 1 709.3,333.9 C709.2,335.6 708.3,336.4 707.3,335.8 L703.9,329.8 L699.6,335.8 L697.7,329.2 L692.9,337.5" fill="none" stroke="#cfd6e4" stroke-width="1.9" stroke-linecap="round" stroke-linejoin="round"/>
<text x="717.2" y="338.0" font-size="13.4" font-weight="bold" fill="#cfd6e4" textLength="95.3" lengthAdjust="spacingAndGlyphs">CoinMarketCap</text>
</g>
<!-- price tag -->
<rect x="21" y="322" width="35.7" height="15.8" fill="#959cab"/>
<text x="27.9" y="333.8" class="yl" fill="#fff">0.87</text>
<line x1="163.4" x2="163.4" y1="426.8" y2="429.4" stroke="#b9c0cd" stroke-width="1"/><line x1="263" x2="263" y1="426.8" y2="429.4" stroke="#b9c0cd" stroke-width="1"/><line x1="360.5" x2="360.5" y1="426.8" y2="429.4" stroke="#b9c0cd" stroke-width="1"/><line x1="461" x2="461" y1="426.8" y2="429.4" stroke="#b9c0cd" stroke-width="1"/><line x1="561" x2="561" y1="426.8" y2="429.4" stroke="#b9c0cd" stroke-width="1"/><line x1="661" x2="661" y1="426.8" y2="429.4" stroke="#b9c0cd" stroke-width="1"/><line x1="761.5" x2="761.5" y1="426.8" y2="429.4" stroke="#b9c0cd" stroke-width="1"/>
<text x="24.5" y="442.5" class="xl" font-weight="bold" style="fill:#6f7a8f">USD</text>
<text x="163.4" y="442.1" text-anchor="middle" class="xl">3:00 PM</text><text x="263" y="442.1" text-anchor="middle" class="xl">6:05 PM</text><text x="360.5" y="442.1" text-anchor="middle" class="xl">9:00 PM</text><text x="461" y="442.1" text-anchor="middle" class="xl" font-weight="bold" fill="#58667e">3</text><text x="561" y="442.1" text-anchor="middle" class="xl">3:00 AM</text><text x="661" y="442.1" text-anchor="middle" class="xl">6:00 AM</text><text x="761.5" y="442.1" text-anchor="middle" class="xl">9:05 AM</text>
<!-- navigator -->
<rect x="57" y="449.2" width="772.5" height="43.5" fill="#f0f2fe"/><line x1="63.5" x2="63.5" y1="449.2" y2="492.7" stroke="#e2e6f9" stroke-width="1"/>
<line x1="164.4" x2="164.4" y1="449.5" y2="492.5" stroke="#e6e9f8" stroke-width="1"/><line x1="264" x2="264" y1="449.5" y2="492.5" stroke="#e6e9f8" stroke-width="1"/><line x1="361.5" x2="361.5" y1="449.5" y2="492.5" stroke="#e6e9f8" stroke-width="1"/><line x1="462" x2="462" y1="449.5" y2="492.5" stroke="#e6e9f8" stroke-width="1"/><line x1="562" x2="562" y1="449.5" y2="492.5" stroke="#e6e9f8" stroke-width="1"/><line x1="662" x2="662" y1="449.5" y2="492.5" stroke="#e6e9f8" stroke-width="1"/><line x1="762.5" x2="762.5" y1="449.5" y2="492.5" stroke="#e6e9f8" stroke-width="1"/>
<path d="M56.9,482.2 L59.9,482.5 L62.8,483.7 L64.3,482.2 L67.8,477.7 L70.8,478.4 L74.2,477.9 L79.7,477.3 L82.1,477.7 L85.1,480.0 L90.3,479.7 L93.3,481.5 L96.0,482.5 L101.9,480.5 L104.4,480.3 L107.3,481.3 L109.8,482.4 L112.8,485.1 L115.7,485.6 L120.4,484.9 L123.7,484.5 L126.6,484.7 L129.6,484.5 L132.8,484.1 L135.3,484.0 L137.7,484.5 L140.5,486.1 L143.4,486.7 L146.4,486.9 L150.8,486.8 L155.0,486.9 L160.0,486.9 L165.2,486.4 L168.6,486.8 L173.6,487.0 L177.3,487.3 L179.5,487.6 L182.2,487.1 L184.7,487.2 L187.4,487.1 L190.4,487.4 L193.4,487.4 L196.3,487.2 L199.3,487.1 L201.8,486.7 L204.7,487.3 L207.2,487.2 L210.2,485.9 L213.1,485.4 L216.1,484.9 L219.1,484.3 L221.8,484.1 L224.5,484.2 L227.0,485.1 L229.9,485.1 L232.9,484.9 L237.9,482.8 L240.8,483.0 L244.0,483.2 L244.8,482.3 L246.7,481.6 L249.6,481.2 L252.4,480.7 L254.9,480.5 L258.1,480.9 L260.9,480.8 L263.4,480.7 L266.2,481.1 L268.8,480.9 L271.3,480.6 L274.1,479.4 L277.0,478.3 L279.8,477.2 L282.6,476.5 L285.1,476.0 L288.3,476.2 L291.1,475.8 L294.0,475.5 L296.4,475.5 L299.3,475.0 L302.1,475.2 L304.9,475.9 L307.8,475.8 L310.6,475.3 L313.4,475.5 L316.3,475.4 L319.1,475.4 L321.8,475.5 L324.6,475.8 L327.4,475.7 L330.3,475.4 L333.1,474.9 L335.6,474.2 L338.4,474.1 L341.2,473.7 L344.1,473.8 L346.9,473.7 L349.7,473.8 L352.6,473.8 L355.3,471.7 L357.7,472.0 L360.6,471.0 L363.5,470.0 L366.2,469.2 L369.1,468.5 L372.0,467.6 L374.8,467.0 L377.7,465.8 L380.4,465.1 L383.0,464.6 L385.9,464.6 L388.6,464.2 L391.2,463.0 L394.3,462.3 L397.0,460.0 L399.6,457.7 L402.3,457.6 L405.2,458.4 L408.1,459.8 L410.7,459.3 L413.6,460.5 L416.5,460.4 L419.1,460.2 L422.0,460.9 L424.9,461.0 L427.6,461.2 L430.5,461.5 L433.3,461.9 L436.0,462.3 L438.9,462.3 L441.5,462.3 L444.2,463.2 L447.1,463.0 L449.7,462.5 L452.6,461.8 L455.3,461.8 L458.1,461.9 L461.0,462.3 L463.9,462.0 L466.6,461.9 L469.5,461.8 L472.1,461.9 L475.0,461.8 L477.9,462.4 L480.8,463.1 L483.4,463.8 L486.3,463.4 L489.0,463.0 L492.1,462.8 L494.4,462.7 L497.3,462.0 L500.1,460.9 L502.9,460.5 L505.4,460.7 L508.2,461.1 L511.1,461.3 L513.9,461.0 L516.7,461.9 L519.6,462.2 L522.4,462.5 L525.2,462.5 L528.1,462.6 L530.7,462.4 L533.4,461.4 L536.2,461.3 L539.0,460.9 L541.7,461.0 L544.5,461.0 L547.3,460.8 L550.2,460.9 L553.0,460.7 L555.8,460.6 L558.7,461.0 L561.3,461.5 L564.0,461.0 L566.8,461.2 L569.6,461.6 L572.3,461.7 L574.9,461.1 L577.6,460.9 L580.4,460.7 L583.3,459.9 L586.1,460.6 L588.9,461.0 L591.8,461.2 L594.4,461.0 L597.2,460.1 L600.1,459.8 L602.9,459.6 L605.7,459.3 L608.6,459.7 L611.4,460.1 L614.1,459.9 L616.9,460.4 L619.7,460.7 L622.6,461.1 L625.4,461.3 L628.0,461.5 L630.9,461.4 L633.7,461.5 L636.6,462.1 L639.4,462.4 L642.0,462.5 L645.1,462.7 L647.5,462.5 L650.2,463.9 L653.0,464.6 L655.8,465.7 L658.5,464.6 L661.3,464.7 L664.0,464.7 L666.8,464.0 L669.6,464.8 L672.5,465.3 L675.3,466.4 L678.2,466.1 L681.0,465.9 L683.8,466.5 L686.7,466.6 L689.5,467.0 L692.1,467.0 L695.0,466.7 L697.6,466.6 L700.5,467.0 L703.3,467.4 L705.9,467.7 L708.8,467.7 L711.4,467.8 L714.3,468.1 L716.9,467.5 L719.9,467.0 L722.8,467.6 L725.4,468.2 L728.2,469.0 L731.1,468.6 L733.9,468.3 L736.6,467.9 L739.2,466.1 L742.0,465.9 L744.9,465.7 L747.5,465.6 L750.4,465.0 L753.2,464.5 L756.0,464.0 L758.9,464.0 L761.7,463.7 L764.3,464.3 L767.2,464.1 L770.0,464.6 L772.8,464.9 L775.6,464.9 L778.5,465.5 L781.3,465.3 L784.1,464.5 L787.0,464.4 L789.8,464.6 L792.6,464.3 L795.2,463.5 L797.8,462.2 L800.7,462.1 L803.5,462.6 L806.1,463.4 L809.2,463.7 L812.0,463.6 L814.4,463.6 L817.2,463.3 L820.0,463.5 L822.9,463.3 L825.7,464.1 L828.5,463.6 L828.5,492.7 L56.9,492.7 Z" fill="#e1e5fb"/>
<path d="M56.9,482.2 L59.9,482.5 L62.8,483.7 L64.3,482.2 L67.8,477.7 L70.8,478.4 L74.2,477.9 L79.7,477.3 L82.1,477.7 L85.1,480.0 L90.3,479.7 L93.3,481.5 L96.0,482.5 L101.9,480.5 L104.4,480.3 L107.3,481.3 L109.8,482.4 L112.8,485.1 L115.7,485.6 L120.4,484.9 L123.7,484.5 L126.6,484.7 L129.6,484.5 L132.8,484.1 L135.3,484.0 L137.7,484.5 L140.5,486.1 L143.4,486.7 L146.4,486.9 L150.8,486.8 L155.0,486.9 L160.0,486.9 L165.2,486.4 L168.6,486.8 L173.6,487.0 L177.3,487.3 L179.5,487.6 L182.2,487.1 L184.7,487.2 L187.4,487.1 L190.4,487.4 L193.4,487.4 L196.3,487.2 L199.3,487.1 L201.8,486.7 L204.7,487.3 L207.2,487.2 L210.2,485.9 L213.1,485.4 L216.1,484.9 L219.1,484.3 L221.8,484.1 L224.5,484.2 L227.0,485.1 L229.9,485.1 L232.9,484.9 L237.9,482.8 L240.8,483.0 L244.0,483.2 L244.8,482.3 L246.7,481.6 L249.6,481.2 L252.4,480.7 L254.9,480.5 L258.1,480.9 L260.9,480.8 L263.4,480.7 L266.2,481.1 L268.8,480.9 L271.3,480.6 L274.1,479.4 L277.0,478.3 L279.8,477.2 L282.6,476.5 L285.1,476.0 L288.3,476.2 L291.1,475.8 L294.0,475.5 L296.4,475.5 L299.3,475.0 L302.1,475.2 L304.9,475.9 L307.8,475.8 L310.6,475.3 L313.4,475.5 L316.3,475.4 L319.1,475.4 L321.8,475.5 L324.6,475.8 L327.4,475.7 L330.3,475.4 L333.1,474.9 L335.6,474.2 L338.4,474.1 L341.2,473.7 L344.1,473.8 L346.9,473.7 L349.7,473.8 L352.6,473.8 L355.3,471.7 L357.7,472.0 L360.6,471.0 L363.5,470.0 L366.2,469.2 L369.1,468.5 L372.0,467.6 L374.8,467.0 L377.7,465.8 L380.4,465.1 L383.0,464.6 L385.9,464.6 L388.6,464.2 L391.2,463.0 L394.3,462.3 L397.0,460.0 L399.6,457.7 L402.3,457.6 L405.2,458.4 L408.1,459.8 L410.7,459.3 L413.6,460.5 L416.5,460.4 L419.1,460.2 L422.0,460.9 L424.9,461.0 L427.6,461.2 L430.5,461.5 L433.3,461.9 L436.0,462.3 L438.9,462.3 L441.5,462.3 L444.2,463.2 L447.1,463.0 L449.7,462.5 L452.6,461.8 L455.3,461.8 L458.1,461.9 L461.0,462.3 L463.9,462.0 L466.6,461.9 L469.5,461.8 L472.1,461.9 L475.0,461.8 L477.9,462.4 L480.8,463.1 L483.4,463.8 L486.3,463.4 L489.0,463.0 L492.1,462.8 L494.4,462.7 L497.3,462.0 L500.1,460.9 L502.9,460.5 L505.4,460.7 L508.2,461.1 L511.1,461.3 L513.9,461.0 L516.7,461.9 L519.6,462.2 L522.4,462.5 L525.2,462.5 L528.1,462.6 L530.7,462.4 L533.4,461.4 L536.2,461.3 L539.0,460.9 L541.7,461.0 L544.5,461.0 L547.3,460.8 L550.2,460.9 L553.0,460.7 L555.8,460.6 L558.7,461.0 L561.3,461.5 L564.0,461.0 L566.8,461.2 L569.6,461.6 L572.3,461.7 L574.9,461.1 L577.6,460.9 L580.4,460.7 L583.3,459.9 L586.1,460.6 L588.9,461.0 L591.8,461.2 L594.4,461.0 L597.2,460.1 L600.1,459.8 L602.9,459.6 L605.7,459.3 L608.6,459.7 L611.4,460.1 L614.1,459.9 L616.9,460.4 L619.7,460.7 L622.6,461.1 L625.4,461.3 L628.0,461.5 L630.9,461.4 L633.7,461.5 L636.6,462.1 L639.4,462.4 L642.0,462.5 L645.1,462.7 L647.5,462.5 L650.2,463.9 L653.0,464.6 L655.8,465.7 L658.5,464.6 L661.3,464.7 L664.0,464.7 L666.8,464.0 L669.6,464.8 L672.5,465.3 L675.3,466.4 L678.2,466.1 L681.0,465.9 L683.8,466.5 L686.7,466.6 L689.5,467.0 L692.1,467.0 L695.0,466.7 L697.6,466.6 L700.5,467.0 L703.3,467.4 L705.9,467.7 L708.8,467.7 L711.4,467.8 L714.3,468.1 L716.9,467.5 L719.9,467.0 L722.8,467.6 L725.4,468.2 L728.2,469.0 L731.1,468.6 L733.9,468.3 L736.6,467.9 L739.2,466.1 L742.0,465.9 L744.9,465.7 L747.5,465.6 L750.4,465.0 L753.2,464.5 L756.0,464.0 L758.9,464.0 L761.7,463.7 L764.3,464.3 L767.2,464.1 L770.0,464.6 L772.8,464.9 L775.6,464.9 L778.5,465.5 L781.3,465.3 L784.1,464.5 L787.0,464.4 L789.8,464.6 L792.6,464.3 L795.2,463.5 L797.8,462.2 L800.7,462.1 L803.5,462.6 L806.1,463.4 L809.2,463.7 L812.0,463.6 L814.4,463.6 L817.2,463.3 L820.0,463.5 L822.9,463.3 L825.7,464.1 L828.5,463.6" fill="none" stroke="#6c8af1" stroke-width="1.4" stroke-linejoin="round"/>
<text x="164.4" y="486.0" text-anchor="middle" class="xl nl">3:00 PM</text><text x="264" y="486.0" text-anchor="middle" class="xl nl">6:05 PM</text><text x="361.5" y="486.0" text-anchor="middle" class="xl nl">9:00 PM</text><text x="462" y="486.0" text-anchor="middle" class="xl nl" font-weight="bold">3</text><text x="562" y="486.0" text-anchor="middle" class="xl nl">3:00 AM</text><text x="662" y="486.0" text-anchor="middle" class="xl nl">6:00 AM</text><text x="762.5" y="486.0" text-anchor="middle" class="xl nl">9:05 AM</text>
<defs><clipPath id="hc"><rect x="40" y="440" width="790.2" height="60"/></clipPath>
<filter id="hs" x="-50%" y="-50%" width="200%" height="200%"><feDropShadow dx="0" dy="0.5" stdDeviation="0.9" flood-color="#808a9d" flood-opacity="0.28"/></filter></defs>
<g clip-path="url(#hc)">
<rect x="52.7" y="461.7" width="10" height="16.2" rx="4.2" fill="#fff" filter="url(#hs)"/>
<rect x="56.1" y="467" width="3.6" height="5.7" fill="#c9cdd9"/><rect x="57.6" y="467" width="0.5" height="5.7" fill="#e6e8ef"/>
<rect x="824.4" y="461.7" width="10" height="16.2" rx="4.2" fill="#fff" filter="url(#hs)"/>
<rect x="827.4" y="467" width="3.6" height="5.7" fill="#c9cdd9"/><rect x="828.9" y="467" width="0.5" height="5.7" fill="#e6e8ef"/>
</g>
</svg>

<svg style="position:absolute;left:10px;top:500px" width="30" height="28" viewBox="10 500 30 28"><defs><filter id="cs" x="-50%" y="-50%" width="200%" height="200%"><feDropShadow dx="0" dy="0.6" stdDeviation="0.9" flood-color="#4166ef" flood-opacity="0.3"/></filter></defs><rect x="17.45" y="506.3" width="13" height="13" rx="3.4" fill="#4166ef" filter="url(#cs)"/><path d="M20.3,514.1 L22.7,516.3 L27.5,509.9" fill="none" stroke="#fff" stroke-width="1.15" stroke-linecap="round" stroke-linejoin="round"/></svg>
<div class="lbl" style="left:41.5px;top:505px;color:#222531">USD</div>
<div style="position:absolute;left:93.9px;top:506.1px;width:12px;height:12px;border-radius:3.5px;background:#fff;border:0.8px solid #e1e4f4;box-shadow:0 0.5px 2px rgba(120,130,200,.22)"></div>
<div class="lbl" style="left:118.5px;top:505px;color:#222531">BTC</div>
<div class="lbl" style="right:22.5px;top:504.5px;color:#67738a;font-size:12.9px">Want more data? <span style="color:#4a6ef0">Check out our API</span></div>
</div></body></html>
